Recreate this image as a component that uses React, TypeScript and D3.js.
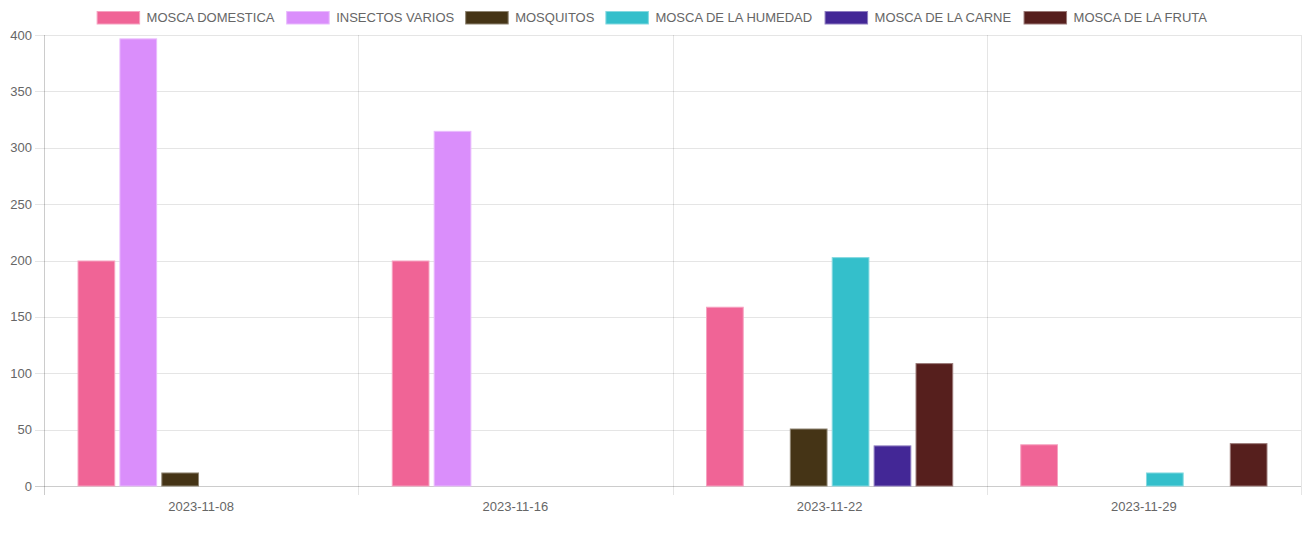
import React, { useMemo } from "react";
import * as d3 from "d3";

const categories = ["2023-11-08", "2023-11-16", "2023-11-22", "2023-11-29"];
const seriesNames = [
  "MOSCA DOMESTICA",
  "INSECTOS VARIOS",
  "MOSQUITOS",
  "MOSCA DE LA HUMEDAD",
  "MOSCA DE LA CARNE",
  "MOSCA DE LA FRUTA",
];
const seriesColors = ["#F06496", "#DA8EFB", "#453416", "#34BFCB", "#432796", "#561F1D"];
const moscaDomestica = [200, 200, 159, 37];
const insectosVarios = [397, 315, 0, 0];
const mosquitos = [12, 0, 51, 0];
const moscaHumedad = [0, 0, 203, 12];
const moscaCarne = [0, 0, 36, 0];
const moscaFruta = [0, 0, 109, 38];
const seriesValues = [moscaDomestica, insectosVarios, mosquitos, moscaHumedad, moscaCarne, moscaFruta];
const yTicks = [0, 50, 100, 150, 200, 250, 300, 350, 400];

const W = 1305;
const H = 534;
const FONT = "Arial, 'Liberation Sans', Helvetica, sans-serif";
const FS = 13;

export default function App() {
  const left = 44, right = 1301, top = 35, bottom = 486;
  const x = d3.scaleBand<string>().domain(categories).range([left, right]).padding(0);
  const y = d3.scaleLinear().domain([0, 400]).range([bottom, top]);

  const legend = useMemo(() => {
    const c = document.createElement("canvas").getContext("2d")!;
    c.font = `${FS}px ${FONT}`;
    const boxW = 43.5, gap = 6.5, pad = 11;
    const widths = seriesNames.map((n) => boxW + gap + c.measureText(n).width);
    const total = d3.sum(widths) + pad * (widths.length - 1);
    let cx = (W - total) / 2;
    return seriesNames.map((n, i) => {
      const item = { name: n, x: cx, color: seriesColors[i] };
      cx += widths[i] + pad;
      return item;
    });
  }, []);

  const grid = "rgba(0,0,0,0.1)";
  const zero = "rgba(0,0,0,0.2)";

  return (
    <div style={{ position: "absolute", left: 0, top: 0 }}>
      <svg width={W} height={H} style={{ display: "block", background: "#fff" }} fontFamily={FONT}>
        {/* legend */}
        {legend.map((l) => (
          <g key={l.name}>
            <rect x={l.x + 0.5} y={11.5} width={42.5} height={12.5} fill={l.color}
              stroke={d3.interpolateRgb(l.color, "#fff")(0.4)} strokeWidth={1} />
            <text x={l.x + 50} y={22} fontSize={FS} fill="#666">{l.name}</text>
          </g>
        ))}
        {/* horizontal grid */}
        {yTicks.map((t) => (
          <g key={t}>
            <line x1={35} x2={right} y1={Math.round(y(t)) + 0.5} y2={Math.round(y(t)) + 0.5}
              stroke={t === 0 ? zero : grid} />
            <text x={32} y={y(t) + 4.5} fontSize={FS} fill="#666" textAnchor="end">{t}</text>
          </g>
        ))}
        {/* vertical grid */}
        {[...categories.map((c) => x(c)!), right].map((v, i) => (
          <line key={i} x1={Math.round(v) + 0.5} x2={Math.round(v) + 0.5} y1={top} y2={495}
            stroke={i === 0 ? zero : grid} />
        ))}
        {/* bars */}
        {categories.map((c, ci) => {
          const cw = x.bandwidth();
          const center = x(c)! + cw / 2;
          const inner = d3.scaleBand<number>()
            .domain(d3.range(seriesNames.length))
            .range([center - cw * 0.4, center + cw * 0.4])
            .paddingInner(0.1)
            .paddingOuter(0.05);
          return (
            <g key={c}>
              {seriesValues.map((vals, si) => {
                const v = vals[ci];
                if (!v) return null;
                const col = seriesColors[si];
                return (
                  <rect key={si} x={inner(si)! + 0.5} y={y(v) + 0.5} width={inner.bandwidth() - 1}
                    height={y(0) - y(v) - 0.5} fill={col}
                    stroke={d3.interpolateRgb(col, "#fff")(0.4)} strokeWidth={1} />
                );
              })}
              <text x={center} y={511} fontSize={FS} fill="#666" textAnchor="middle">{c}</text>
            </g>
          );
        })}
      </svg>
    </div>
  );
}
